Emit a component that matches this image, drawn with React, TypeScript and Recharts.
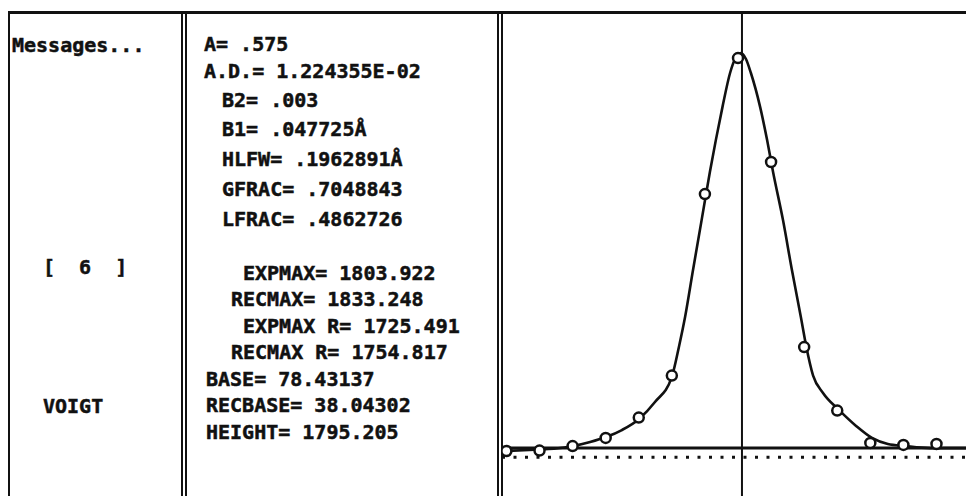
import {
  ComposedChart,
  Line,
  ReferenceLine,
  Scatter,
  XAxis,
  YAxis,
} from "recharts";

// fitted Voigt profile (x = channel offset, y = counts)
const curveX = [
  -7.04, -5.99, -5.5, -4.99, -4.47, -3.99, -3.51, -2.99, -2.51, -2.0, -1.78,
  -1.6, -1.36, -1.1, -0.85, -0.67, -0.47, -0.24, -0.09, 0.09, 0.24, 0.39, 0.67,
  0.88, 1.06, 1.36, 1.63, 1.9, 2.06, 2.27, 2.57, 3.05, 3.57, 4.05, 4.53, 5.05,
  5.8, 6.89,
];
const curveY = [
  65, 72, 76, 87, 105, 127, 158, 207, 282, 393, 530, 658, 866, 1087, 1300, 1441,
  1587, 1738, 1800, 1826, 1800, 1738, 1587, 1441, 1300, 1087, 866, 658, 530, 399,
  322, 247, 176, 123, 96, 87, 78, 78,
];

// measured points
const pointX = [-7, -6, -5, -4, -3, -2, -1, 0, 1, 2, 3, 4, 5, 6];
const pointY = [65, 67, 87, 123, 213, 399, 1202, 1804, 1344, 525, 244, 101, 92, 96];

const BASE = 78.43137;
const RECBASE = 38.04302;
const CENTER_X = 0.12;

const leftLines = [
  { text: "Messages...", x: 12, y: 45 },
  { text: "[  6  ]", x: 43, y: 267 },
  { text: "VOIGT", x: 43, y: 406 },
];

const middleLines = [
  { text: "A= .575", x: 204, y: 44 },
  { text: "A.D.= 1.224355E-02", x: 204, y: 71 },
  { text: "B2= .003", x: 222, y: 100 },
  { text: "B1= .047725Å", x: 222, y: 129 },
  { text: "HLFW= .1962891Å", x: 222, y: 159 },
  { text: "GFRAC= .7048843", x: 222, y: 189 },
  { text: "LFRAC= .4862726", x: 222, y: 219 },
  { text: "EXPMAX= 1803.922", x: 243, y: 273 },
  { text: "RECMAX= 1833.248", x: 231, y: 299 },
  { text: "EXPMAX R= 1725.491", x: 243, y: 326 },
  { text: "RECMAX R= 1754.817", x: 231, y: 352 },
  { text: "BASE= 78.43137", x: 206, y: 379 },
  { text: "RECBASE= 38.04302", x: 206, y: 405 },
  { text: "HEIGHT= 1795.205", x: 206, y: 432 },
];

const INK = "#111";

function Rule({ x, y, w, h }: { x: number; y: number; w: number; h: number }) {
  return (
    <div
      style={{ position: "absolute", left: x, top: y, width: w, height: h, background: INK }}
    />
  );
}

function PrintText({ text, x, y }: { text: string; x: number; y: number }) {
  return (
    <div
      style={{
        position: "absolute",
        left: x,
        top: y - 10,
        lineHeight: "20px",
        fontSize: 20,
        fontWeight: 700,
        fontFamily: "'DejaVu Sans Mono', monospace",
        color: INK,
        whiteSpace: "pre",
        WebkitTextStroke: "0.5px #111",
      }}
    >
      {text}
    </div>
  );
}

function OpenDot(props: { cx?: number; cy?: number }) {
  if (props.cx == null || props.cy == null) return null;
  return <circle cx={props.cx} cy={props.cy} r={5} fill="#fff" stroke={INK} strokeWidth={2.5} />;
}

export default function App() {
  const curve = curveX.map((x, i) => ({ x, y: curveY[i] }));
  const points = pointX.map((x, i) => ({ x, y: pointY[i] }));

  return (
    <div
      style={{
        position: "absolute",
        left: 0,
        top: 0,
        width: 966,
        height: 496,
        overflow: "hidden",
        background: "#fff",
      }}
    >
      {/* panel frames */}
      <Rule x={8} y={11} w={958} h={3} />
      <Rule x={8} y={11} w={2} h={485} />
      <Rule x={181} y={11} w={2} h={485} />
      <Rule x={185} y={11} w={2} h={485} />
      <Rule x={497} y={11} w={2} h={485} />
      <Rule x={501} y={11} w={2} h={485} />

      {leftLines.map((l) => (
        <PrintText key={l.text} {...l} />
      ))}
      {middleLines.map((l) => (
        <PrintText key={l.text} {...l} />
      ))}

      <div style={{ position: "absolute", left: 502, top: 12 }}>
        <ComposedChart
          width={464}
          height={484}
          margin={{ top: 0, right: 0, bottom: 0, left: 0 }}
        >
          <XAxis
            type="number"
            dataKey="x"
            domain={[-7.134, 6.892]}
            allowDataOverflow
            hide
          />
          <YAxis type="number" dataKey="y" domain={[-134, 2008]} allowDataOverflow hide />
          <ReferenceLine x={CENTER_X} stroke={INK} strokeWidth={2} />
          <ReferenceLine y={BASE} stroke={INK} strokeWidth={3} />
          <ReferenceLine
            y={RECBASE}
            stroke={INK}
            strokeWidth={3}
            strokeDasharray="3 8.5"
          />
          <Line
            data={curve}
            dataKey="y"
            type="monotone"
            stroke={INK}
            strokeWidth={2.6}
            dot={false}
            isAnimationActive={false}
          />
          <Scatter data={points} dataKey="y" shape={<OpenDot />} isAnimationActive={false} />
        </ComposedChart>
      </div>
    </div>
  );
}
